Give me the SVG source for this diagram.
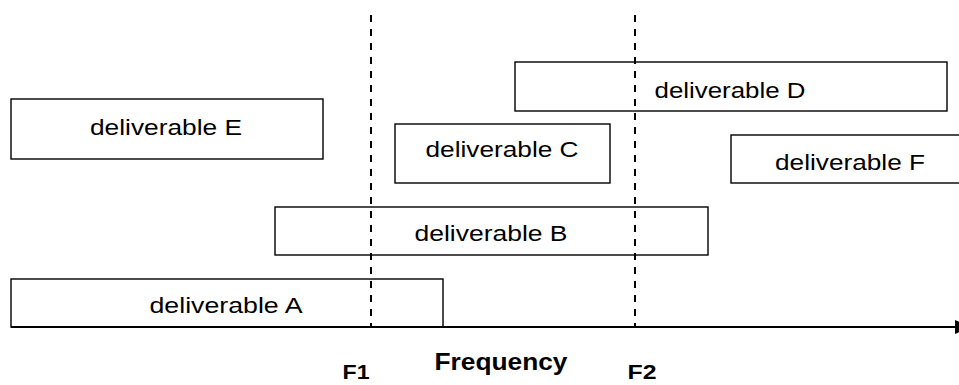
<svg xmlns="http://www.w3.org/2000/svg" width="959" height="385" viewBox="0 0 959 385">
<style>
.box{fill:#fff;stroke:#000;stroke-width:1.4}
.lbl{font-family:"Liberation Sans",Arial,sans-serif;font-size:22px;fill:#000;text-anchor:middle}
.bold{font-family:"Liberation Sans",Arial,sans-serif;font-size:24px;font-weight:bold;fill:#000;text-anchor:middle}
.fl{font-size:21px}
.dash{stroke:#000;stroke-width:2;stroke-dasharray:7 7;fill:none}
.axis{stroke:#000;stroke-width:2.2;fill:none}
</style>
<defs>
<marker id="arr" markerWidth="15" markerHeight="14" refX="15" refY="7" orient="auto" markerUnits="userSpaceOnUse">
<path d="M0,0 L15,7 L0,14 Z" fill="#000"/>
</marker>
</defs>
<rect width="959" height="385" fill="#fff"/>
<g id="node-E"><rect class="box" x="11" y="99" width="312" height="60"/><text class="lbl" x="166" y="135" textLength="152" lengthAdjust="spacingAndGlyphs">deliverable E</text></g>
<g id="node-D"><rect class="box" x="515" y="62" width="432" height="49"/><text class="lbl" x="730" y="98" textLength="151" lengthAdjust="spacingAndGlyphs">deliverable D</text></g>
<g id="node-C"><rect class="box" x="395" y="124" width="215" height="59"/><text class="lbl" x="502" y="157" textLength="153" lengthAdjust="spacingAndGlyphs">deliverable C</text></g>
<g id="node-F"><rect class="box" x="731" y="135" width="240" height="48"/><text class="lbl" x="850" y="170" textLength="150" lengthAdjust="spacingAndGlyphs">deliverable F</text></g>
<g id="node-B"><rect class="box" x="275" y="207" width="433" height="48"/><text class="lbl" x="491" y="241" textLength="153" lengthAdjust="spacingAndGlyphs">deliverable B</text></g>
<g id="node-A"><rect class="box" x="11" y="279" width="432" height="48"/><text class="lbl" x="226" y="313" textLength="153" lengthAdjust="spacingAndGlyphs">deliverable A</text></g>
<g id="connectors">
<line class="axis" x1="11" y1="327" x2="970" y2="327" marker-end="url(#arr)"/>
<line class="dash" x1="371" y1="15" x2="371" y2="327"/>
<line class="dash" x1="635" y1="15" x2="635" y2="327"/>
</g>
<g id="labels">
<text class="bold" x="501" y="370" textLength="133" lengthAdjust="spacingAndGlyphs">Frequency</text>
<text class="bold fl" x="356" y="379" textLength="27" lengthAdjust="spacingAndGlyphs">F1</text>
<text class="bold fl" x="642" y="379" textLength="29" lengthAdjust="spacingAndGlyphs">F2</text>
</g>
</svg>
